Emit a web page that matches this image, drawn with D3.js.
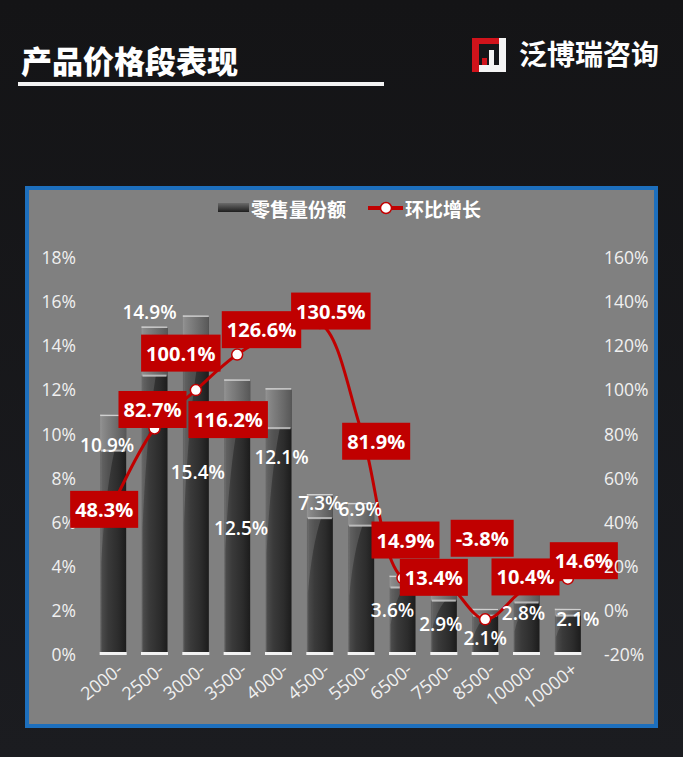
<!DOCTYPE html>
<html><head><meta charset="utf-8">
<script src="https://cdn.jsdelivr.net/npm/d3@7"></script>
<style>
html,body{margin:0;padding:0;background:#151619;}
svg{display:block;}
</style></head>
<body>
<svg id="chart" width="683" height="757"></svg>
<script>
// ---- data ----
const categories = ["2000-","2500-","3000-","3500-","4000-","4500-","5500-","6500-","7500-","8500-","10000-","10000+"];
const shareValues = [10.9,14.9,15.4,12.5,12.1,7.3,6.9,3.6,2.9,2.1,2.8,2.1];
const growthValues = [48.3,82.7,100.1,116.2,126.6,130.5,81.9,14.9,13.4,-3.8,10.4,14.6];
const leftTicks = [0,2,4,6,8,10,12,14,16,18];
const rightTicks = [-20,0,20,40,60,80,100,120,140,160];
const seriesNames = ["零售量份额","环比增长"];
const titleText = "产品价格段表现";
const brandText = "泛博瑞咨询";
// label placement offsets (px) – layout only
const barLabelOffsets = [[-6,30],[-5,-14],[2,157],[4,149],[3,69],[0,9],[-1,6],[-10,34],[-3,33],[0,29],[-3,20],[10,10]];
const lineLabelOffsets = [[-9,5],[-2,-19],[-15,-37],[-9,65],[-17,-2],[11,-12],[15,11],[3,-38],[-10,-4],[-3,-81],[-1,-11],[16,-18]];

const svg = d3.select("#chart");
const RED = "#c00000";
const numFont = "'Open Sans','Noto Sans',sans-serif";
const cjkFont = "'Noto Sans CJK SC','Noto Sans',sans-serif";

// defs
const defs = svg.append("defs");
const bg = defs.append("linearGradient").attr("id","bg").attr("x1",0).attr("y1",0).attr("x2",0).attr("y2",1);
bg.append("stop").attr("offset","0%").attr("stop-color","#141416");
bg.append("stop").attr("offset","100%").attr("stop-color","#1b1c20");
const bodyG = defs.append("linearGradient").attr("id","barBody").attr("x1",0).attr("y1",0).attr("x2",1).attr("y2",0);
[["0%","#6e6e6e"],["8%","#4a4a4a"],["30%","#3a3a3a"],["70%","#2c2c2c"],["100%","#1c1c1c"]].forEach(s=>bodyG.append("stop").attr("offset",s[0]).attr("stop-color",s[1]));
const capG = defs.append("linearGradient").attr("id","barCap").attr("x1",0).attr("y1",0).attr("x2",1).attr("y2",0);
[["0%","#a0a0a0"],["40%","#8a8a8a"],["100%","#666666"]].forEach(s=>capG.append("stop").attr("offset",s[0]).attr("stop-color",s[1]));
const legG = defs.append("linearGradient").attr("id","legBar").attr("x1",0).attr("y1",0).attr("x2",0).attr("y2",1);
[["0%","#6a6a6a"],["100%","#1e1e1e"]].forEach(s=>legG.append("stop").attr("offset",s[0]).attr("stop-color",s[1]));

svg.append("rect").attr("width",683).attr("height",757).attr("fill","url(#bg)");

// title
svg.append("text").attr("x",21).attr("y",73).attr("fill","#fff")
  .attr("font-family",cjkFont).attr("font-weight",900).attr("font-size",31).text(titleText);
svg.append("rect").attr("x",18).attr("y",82).attr("width",366).attr("height",4).attr("fill","#f2f2f2");

// logo
const logo = svg.append("g").attr("transform","translate(472,38)");
logo.append("rect").attr("x",0).attr("y",0).attr("width",34).attr("height",34).attr("fill","#f4f4f4");
logo.append("path").attr("d","M0,0 H27 V6 H7 V34 H0 Z").attr("fill","#d0131b");
logo.append("rect").attr("x",7).attr("y",6).attr("width",20).attr("height",21).attr("fill","#151619");
logo.append("rect").attr("x",10).attr("y",20).attr("width",5).attr("height",7).attr("fill","#d0131b");
logo.append("rect").attr("x",17).attr("y",12).attr("width",5).attr("height",15).attr("fill","#f4f4f4");
svg.append("text").attr("x",519).attr("y",65).attr("fill","#fff")
  .attr("font-family",cjkFont).attr("font-weight",700).attr("font-size",28).text(brandText);

// frame
svg.append("rect").attr("x",27).attr("y",188).attr("width",629).attr("height",538)
  .attr("fill","#808080").attr("stroke","#1d6fbd").attr("stroke-width",4);

// scales
const x = d3.scaleBand().domain(categories).range([92.5,588.5]).paddingInner(0.37).paddingOuter(0.185);
const yL = d3.scaleLinear().domain([0,18]).range([655,258]);
const yR = d3.scaleLinear().domain([-20,160]).range([655,258]);
const bw = x.bandwidth();

// axes
const axisL = d3.axisLeft(yL).tickValues(leftTicks).tickFormat(d=>d+"%").tickSize(0).tickPadding(0);
const gL = svg.append("g").attr("transform","translate(76,0)").call(axisL);
const axisR = d3.axisRight(yR).tickValues(rightTicks).tickFormat(d=>d+"%").tickSize(0).tickPadding(0);
const gR = svg.append("g").attr("transform","translate(604,0)").call(axisR);
const axisX = d3.axisBottom(x).tickSize(0).tickPadding(0);
const gX = svg.append("g").attr("transform","translate(0,667)").call(axisX);
[gL,gR,gX].forEach(g=>{
  g.select(".domain").remove();
  g.selectAll("text").attr("fill","#f0f0f0").attr("font-family",numFont).attr("font-size",17.5);
});
gX.selectAll("text").attr("text-anchor","end").attr("dy","0.35em").attr("font-size",18)
  .attr("transform","translate(7,0) rotate(-38)");

// bars
const bars = svg.append("g");
categories.forEach((c,i)=>{
  const x0 = x(c), yt = yL(shareValues[i]), yb = yL(0);
  const h = yb - yt, cap = h*0.15;
  const g = bars.append("g");
  g.append("rect").attr("x",x0).attr("y",yt).attr("width",bw).attr("height",h-2).attr("fill","url(#barBody)");
  const bodyTop = yt+cap, bodyH = h-cap;
  g.append("path").attr("d",`M${x0+1},${bodyTop} L${x0+bw*0.55},${bodyTop} Q${x0+bw*0.2},${bodyTop+bodyH*0.2} ${x0+1},${bodyTop+bodyH*0.55} Z`)
    .attr("fill","#ffffff").attr("opacity",0.13);
  g.append("rect").attr("x",x0).attr("y",yt).attr("width",bw).attr("height",cap).attr("fill","url(#barCap)").attr("opacity",0.8);
  g.append("rect").attr("x",x0).attr("y",yt).attr("width",bw).attr("height",1.5).attr("fill","#d0d0d0");
  g.append("rect").attr("x",x0+1).attr("y",yt+cap-1).attr("width",bw-2).attr("height",2).attr("fill","#cfcfcf").attr("opacity",0.8);
  g.append("rect").attr("x",x0-0.5).attr("y",yb-3).attr("width",bw+1).attr("height",3).attr("fill","#f2f2f2");
});

// line
const center = c => x(c)+bw/2;
const pts = categories.map((c,i)=>[center(c), yR(growthValues[i])]);
svg.append("path").attr("d",d3.line().curve(d3.curveCatmullRom.alpha(0.5))(pts))
  .attr("fill","none").attr("stroke",RED).attr("stroke-width",3);
svg.append("g").selectAll("circle").data(pts).join("circle")
  .attr("cx",d=>d[0]).attr("cy",d=>d[1]).attr("r",5.5)
  .attr("fill","#fff").attr("stroke",RED).attr("stroke-width",1.5);

// bar labels
svg.append("g").selectAll("text").data(shareValues).join("text")
  .attr("x",(d,i)=>center(categories[i])+barLabelOffsets[i][0])
  .attr("y",(d,i)=>yL(d)+barLabelOffsets[i][1])
  .attr("text-anchor","middle").attr("dominant-baseline","central")
  .attr("fill","#fff").attr("font-family",numFont).attr("font-weight",600).attr("font-size",19)
  .text(d=>d.toFixed(1)+"%");

// line labels
const ll = svg.append("g");
growthValues.forEach((v,i)=>{
  const cx = pts[i][0]+lineLabelOffsets[i][0], cy = pts[i][1]+lineLabelOffsets[i][1];
  const g = ll.append("g");
  const r = g.append("rect").attr("fill",RED);
  const t = g.append("text").attr("x",cx).attr("y",cy).attr("text-anchor","middle").attr("dominant-baseline","central")
    .attr("fill","#fff").attr("font-family",numFont).attr("font-weight",700).attr("font-size",20)
    .text(v.toFixed(1)+"%");
  const w = t.node().getComputedTextLength()+10;
  r.attr("x",cx-w/2).attr("y",cy-18.5).attr("width",w).attr("height",37);
});
gR.raise();

// legend
const lg = svg.append("g");
lg.append("rect").attr("x",218).attr("y",203).attr("width",31).attr("height",9).attr("fill","url(#legBar)");
lg.append("text").attr("x",251).attr("y",208).attr("dominant-baseline","central").attr("fill","#fff")
  .attr("font-family",cjkFont).attr("font-weight",700).attr("font-size",19).text(seriesNames[0]);
lg.append("line").attr("x1",368).attr("x2",403).attr("y1",208).attr("y2",208).attr("stroke",RED).attr("stroke-width",4);
lg.append("circle").attr("cx",386).attr("cy",208).attr("r",5.5).attr("fill","#fff").attr("stroke",RED).attr("stroke-width",1.5);
lg.append("text").attr("x",405).attr("y",208).attr("dominant-baseline","central").attr("fill","#fff")
  .attr("font-family",cjkFont).attr("font-weight",700).attr("font-size",19).text(seriesNames[1]);
</script>
</body></html>
